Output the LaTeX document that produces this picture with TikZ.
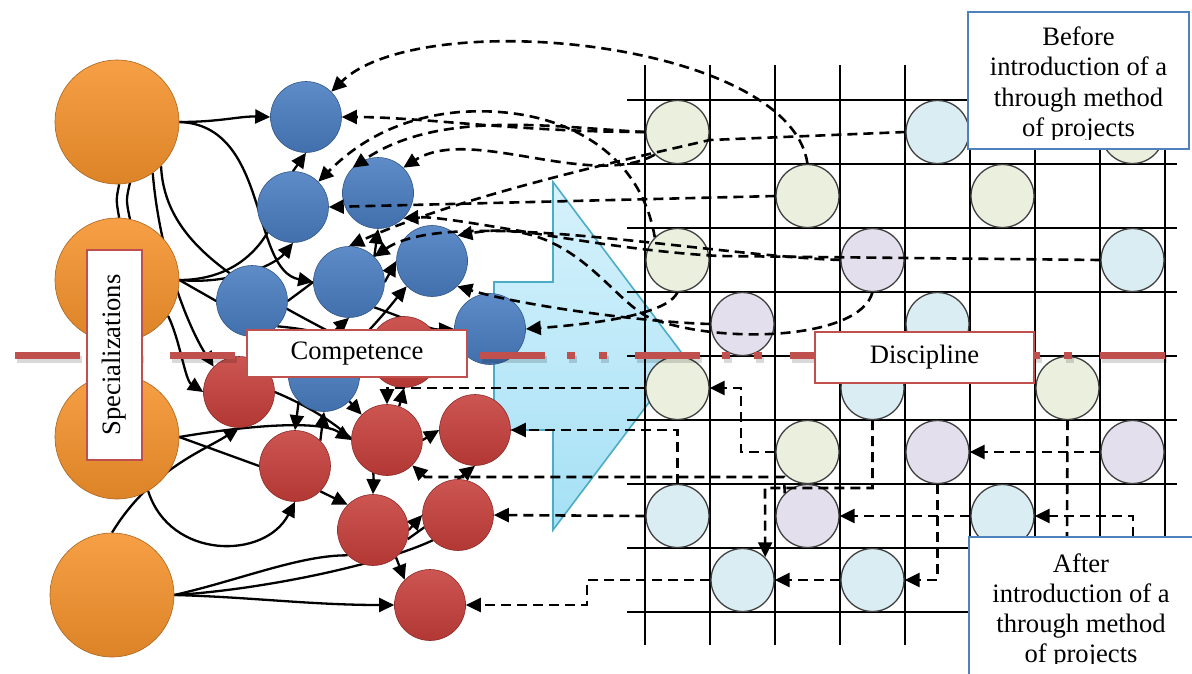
\documentclass[tikz,border=0pt]{standalone}
\usepackage{fontspec}
\setmainfont{Liberation Serif}
\usetikzlibrary{arrows.meta,backgrounds}
\definecolor{orangeball}{RGB}{245,146,44}
\definecolor{blueball}{RGB}{72,124,192}
\definecolor{redball}{RGB}{198,62,58}
\definecolor{cellgreen}{RGB}{235,240,222}
\definecolor{cellpurple}{RGB}{228,223,236}
\definecolor{cellblue}{RGB}{218,237,243}
\definecolor{arrowtop}{RGB}{214,242,252}
\definecolor{arrowbot}{RGB}{165,224,245}
\definecolor{arrowedge}{RGB}{75,172,198}
\definecolor{linered}{RGB}{192,80,77}
\definecolor{noteblue}{RGB}{79,129,189}
\newcommand\boxfont{\fontsize{26.6pt}{30.5pt}\selectfont}
\tikzset{
  ball/.style={circle,inner sep=0pt,minimum size=71pt,draw=#1!70!black,line width=0.6pt,
    top color=#1!88!white,middle color=#1,bottom color=#1!90!black},
  bigball/.style={ball=orangeball,minimum size=124pt},
  cell/.style={circle,inner sep=0pt,minimum size=63pt,draw=black!75,line width=1.3pt,fill=#1},
  link/.style={->,line width=2.3pt},
  dlink/.style={->,line width=2.6pt,dash pattern=on 10pt off 6pt},
  labelbox/.style={draw=linered,line width=2.2pt,fill=white,inner sep=0pt,font=\boxfont},
  notebox/.style={draw=noteblue,line width=2.2pt,fill=white},
  >={Triangle[length=15pt,width=14pt]}
}
\begin{document}
\begin{tikzpicture}[x=1pt,y=-1pt]
\useasboundingbox (0,0) rectangle (1192,673);
\node[bigball] (o1) at (117,122) {};
\node[bigball] (o2) at (117,280) {};
\node[bigball] (o3) at (117,437) {};
\node[bigball] (o4) at (112,595) {};
\foreach \n/\x/\y in {b1/306/117,b2/293/207,b3/378/193,b4/432/261,b5/349/282,b6/252/301,b7/490/329,b8/324/376}
  \node[ball=blueball] (\n) at (\x,\y) {};
\foreach \n/\x/\y in {r1/404/352,r2/239/392,r3/295/466,r4/387/440,r5/475/430,r6/373/530,r7/458/515,r8/430/605}
  \node[ball=redball] (\n) at (\x,\y) {};
\foreach \i in {0,...,8} {
  \draw[line width=1.3pt] ({645+65*\i},65) -- ({645+65*\i},645);
  \draw[line width=1.3pt] (627,{100+64*\i}) -- (1177,{100+64*\i});
}
\foreach \r/\c/\col in {0/0/cellgreen,0/4/cellblue,0/7/cellgreen,1/2/cellgreen,1/5/cellgreen,
    2/0/cellgreen,2/3/cellpurple,2/7/cellblue,3/1/cellpurple,3/4/cellblue,4/0/cellgreen,
    4/3/cellblue,4/6/cellgreen,5/2/cellgreen,5/4/cellpurple,5/7/cellpurple,6/0/cellblue,
    6/2/cellpurple,6/5/cellblue,7/1/cellblue,7/3/cellblue}
  \node[cell=\col] (g\r\c) at ({677.5+65*\c},{132+64*\r}) {};
\begin{scope}[on background layer]
\draw[arrowedge,line width=1.6pt,top color=arrowtop,bottom color=arrowbot]
  (494,282) -- (553,282) -- (553,182) -- (684,356) -- (553,530) -- (553,430) -- (494,430) -- cycle;
\draw[link] (o1.east) .. controls (220,122) and (240,116) .. (b1.west);
\draw[link] (o1.east) .. controls (270,125) and (250,270) .. (b5.west);
\draw[link,-] (o1.-88) .. controls (116,200) .. (o2.88);
\draw[link,-] (o1.-78) .. controls (126,200) .. (o2.78);
\draw[link,-] (o1.-45) .. controls (165,250) and (250,290) .. (r1.west);
\draw[link] (o1.-55) .. controls (160,260) and (190,330) .. (r2.north west);
\draw[link] (o2.east) .. controls (230,285) and (275,265) .. (b2.south);
\draw[link,-] (o2.east) .. controls (220,280) and (250,262) .. (b2.south west);
\draw[link,-] (o2.east) -- (b6.west);
\draw[link] (o2.-35) .. controls (180,340) and (185,380) .. (r2.west);
\draw[link,-] (b6.east) -- (b5.west);
\draw[link,-] (b6.south east) .. controls (320,330) and (350,340) .. (r1.west);
\draw[link] (b5.east) -- (b4.west);
\draw[link] (b5.north east) -- (b3.south);
\draw[link] (b2.north) -- (b1.south);
\draw[link] (b8.north) -- (b5.south);
\draw[link] (b8.north east) .. controls (380,320) and (395,300) .. (b4.south west);
\draw[link] (b5.south east) .. controls (410,320) and (430,330) .. (b7.west);
\draw[link,-] (o3.east) -- (r3.west);
\draw[link] (o3.east) .. controls (250,425) and (320,420) .. (r4.west);
\draw[link] (o3.-60) .. controls (170,560) and (265,560) .. (r3.south);
\draw[link] (o4.north) .. controls (150,470) and (205,450) .. (r2.south);
\draw[link] (o4.east) .. controls (250,597) and (310,605) .. (r8.west);
\draw[link,-] (o4.east) .. controls (240,580) and (300,555) .. (r6.south west);
\draw[link,-] (o4.east) .. controls (260,590) and (380,565) .. (r7.south west);
\draw[link] (r2.east) .. controls (330,415) and (375,450) .. (r6.north);
\draw[link] (r3.south east) -- (r6.north west);
\draw[link] (b8.south west) -- (r3.north);
\draw[link] (r3.north east) -- (b8.south);
\draw[link] (b8.south east) -- (r4.north west);
\draw[link] (r4.70) -- (r1.south);
\draw[link] (r4.east) -- (r5.west);
\draw[link] (r7.north) -- (r5.south);
\draw[link] (r6.east) -- (r7.west);
\draw[link] (r6.-50) -- (r8.north west);
\draw[link,-] (r7.200) -- (r6.-15);
\end{scope}
\draw[dlink] (g12.north) .. controls (790,40) and (420,5) .. (b1.north east);
\draw[dlink] (g00.west) .. controls (520,132) and (420,117) .. (b1.east);
\draw[dlink] (g00.west) .. controls (560,128) and (440,108) .. (b3.north west);
\draw[dlink] (g20.north west) .. controls (640,150) and (560,105) .. (460,112) .. controls (390,118) and (350,150) .. (b2.north east);
\draw[dlink] (g12.west) -- (b2.east);
\draw[dlink] (g00.south west) .. controls (590,190) and (470,125) .. (b3.north east);
\draw[dlink] (g27.west) -- (720,256) .. controls (600,250) and (450,215) .. (b3.south east);
\draw[dlink] (g23.west) .. controls (700,255) and (450,205) .. (b5.north east);
\draw[dlink] (g04.west) -- (710,140) .. controls (600,165) and (450,200) .. (b5.north);
\draw[dlink] (g23.south) .. controls (860,340) and (720,345) .. (650,318) .. controls (610,300) and (570,215) .. (b4.north east);
\draw[dlink] (g31.west) .. controls (640,322) and (520,305) .. (b4.south east);
\draw[dlink] (g20.south) .. controls (670,310) and (620,322) .. (b7.east);
\draw[dlink] (g40.west) -| (r4.north);
\draw[dlink] (g52.west) -- (741,452) -- (741,388) -- (g40.east);
\draw[dlink] (g60.north) |- (r5.east);
\draw[dlink] (g62.north west) -- (784,477) -- (425,477) -- (r4.south east);
\draw[dlink] (g43.south) |- (765,488) -- (g71.north east);
\draw[dlink] (g60.west) -- (r7.east);
\draw[dlink] (g71.west) -- (587,580) -- (587,605) -- (r8.east);
\draw[dlink] (g73.west) -- (g71.east);
\draw[dlink] (g54.south) |- (g73.east);
\draw[dlink] (g65.west) -- (g62.east);
\draw[dlink] (g57.west) -- (g54.east);
\coordinate (a1) at (1133,537);
\coordinate (a2) at (1067,537);
\draw[dlink] (a1) |- (g65.east);
\draw[dlink,-] (g46.south) -- (a2);
\draw[black,opacity=.15,line width=7pt,dash pattern=on 65pt off 22pt on 8pt off 24pt on 8pt off 28pt] (17,359) -- (1168,359);
\draw[linered,line width=7pt,dash pattern=on 65pt off 22pt on 8pt off 24pt on 8pt off 28pt] (15,355) -- (1166,355);
\node[labelbox,minimum width=220pt,minimum height=47pt] (comp) at (357,353.5) {Competence};
\node[labelbox,minimum width=219pt,minimum height=51pt] (disc) at (924.5,357.5) {Discipline};
\node[labelbox,rotate=90,minimum width=210pt,minimum height=55pt] (spec) at (114.5,355) {Specializations};
\node[notebox,minimum width=221pt,minimum height=137pt] (before) at (1078.5,80.5) {};
\begin{scope}
\clip (969,13) rectangle (1188,139);
\foreach \t [count=\i] in {Before,introduction of a,through method,of projects}
  \node[font=\boxfont,anchor=base] (bt\i) at (1078.5,{45+30.5*(\i-1)}) {\t};
\end{scope}
\node[notebox,minimum width=231pt,minimum height=153pt] (after) at (1084.5,613.5) {};
\begin{scope}
\clip (970,538) rectangle (1192,663);
\foreach \t [count=\i] in {After,introduction of a,through method,of projects}
  \node[font=\boxfont,anchor=base] (at\i) at (1081,{572+30*(\i-1)}) {\t};
\end{scope}
\end{tikzpicture}
\end{document}
